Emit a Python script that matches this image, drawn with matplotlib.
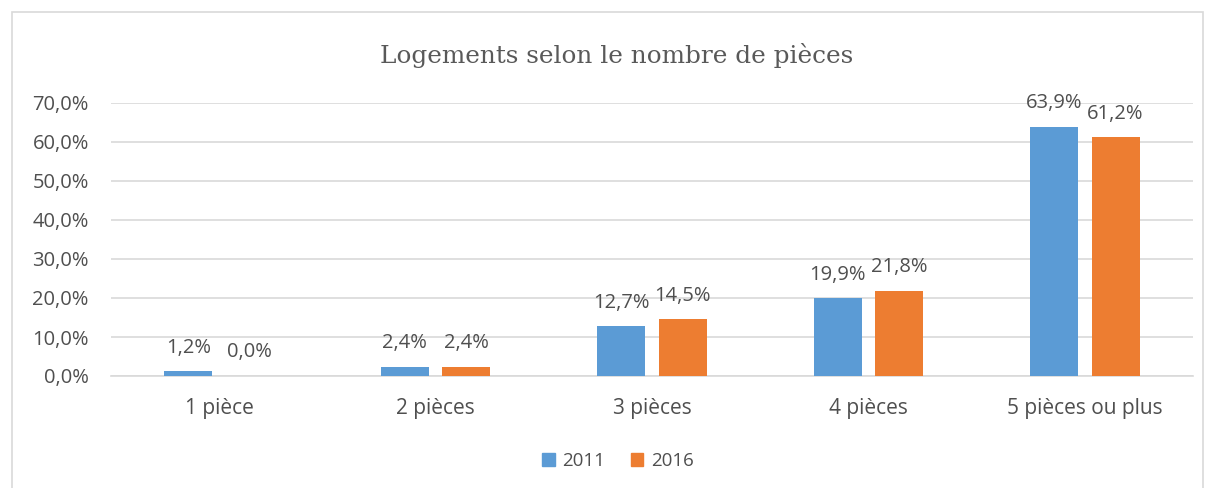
import matplotlib
matplotlib.use("Agg")
import matplotlib.pyplot as plt
import numpy as np
from matplotlib.patches import Rectangle

categories = ["1 pièce", "2 pièces", "3 pièces", "4 pièces", "5 pièces ou plus"]
series_names = ["2011", "2016"]
v2011 = [1.2, 2.4, 12.7, 19.9, 63.9]
v2016 = [0.0, 2.4, 14.5, 21.8, 61.2]
yticks = [0, 10, 20, 30, 40, 50, 60, 70]
colors = ["#5b9bd5", "#ed7d31"]

plt.rcParams['font.family'] = ['Open Sans', 'DejaVu Sans']
fig = plt.figure(figsize=(12.08, 4.88), dpi=100)
W, H = 1208, 488
# chart border
fig.patches.append(Rectangle((12/W, -0.01), (1203-12)/W, (488-12)/H + 0.01, transform=fig.transFigure,
                             fill=False, edgecolor="#d9d9d9", linewidth=1.2))
ax = fig.add_axes([111/W, 1-376/H, (1193-111)/W, (376-103)/H])
x = np.arange(len(categories))
bw = 0.222
off = 0.142
tc = "#4f4f4f"
fs = 14.5
for vals, c, o in [(v2011, colors[0], -off), (v2016, colors[1], off)]:
    ax.bar(x + o, vals, width=bw, color=c, zorder=3)
    for xi, v in zip(x + o, vals):
        ax.annotate(f"{v:.1f}%".replace(".", ","), (xi, v), xytext=(0, 13.5),
                    textcoords="offset points", ha="center", va="baseline",
                    fontsize=fs, color=tc, zorder=4)
ax.set_xlim(-0.5, len(categories) - 0.5)
ax.set_ylim(0, 70)
ax.set_yticks(yticks)
ax.set_yticklabels([f"{t:.1f}%".replace(".", ",") for t in yticks], fontsize=fs, color=tc)
ax.set_xticks(x)
ax.set_xticklabels(categories, fontsize=15, color=tc)
ax.tick_params(axis='x', length=0, pad=15.5)
ax.tick_params(axis='y', length=0, pad=16)
ax.grid(axis='y', color="#d9d9d9", linewidth=1.2, zorder=0)
for s in ["top", "right", "left"]:
    ax.spines[s].set_visible(False)
ax.spines["bottom"].set_color("#d9d9d9")
ax.spines["bottom"].set_linewidth(1.2)

fig.text(617/W, 1-55/H, "Logements selon le nombre de pièces", ha="center", va="center",
         fontsize=17.8, color="#595959", family=["DejaVu Serif"])

handles = [Rectangle((0, 0), 1, 1, color=c) for c in colors]
fig.legend(handles, series_names, loc="center", bbox_to_anchor=(618/W, 1-461/H), ncol=2,
           frameon=False, fontsize=13.5, labelcolor=tc, handlelength=0.65, handleheight=0.65,
           handletextpad=0.4, columnspacing=1.4)

fig.savefig("out.png", dpi=100)
